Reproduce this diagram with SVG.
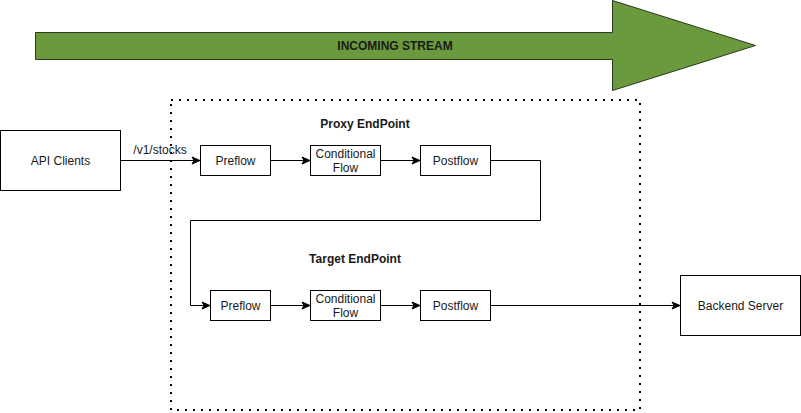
<svg xmlns="http://www.w3.org/2000/svg" width="801" height="413" viewBox="0 0 801 413">
<defs>
<marker id="arr" markerWidth="10" markerHeight="10" refX="9" refY="5" orient="auto" markerUnits="userSpaceOnUse">
<path d="M1,1.5 L9,5 L1,8.5 L3,5 Z" fill="#000" stroke="#000" stroke-width="1"/>
</marker>
</defs>
<style>
.box{fill:#fff;stroke:#000;stroke-width:1}
.t{font-family:"Liberation Sans",Arial,sans-serif;font-size:12px;fill:#1a1a1a;text-anchor:middle;dominant-baseline:central}
.b{font-weight:bold}
.c{fill:none;stroke:#000;stroke-width:1}
</style>
<rect width="801" height="413" fill="#fff"/>
<g id="incoming-stream">
<path d="M35.5,32.5 L612.5,32.5 L612.5,0.5 L755.5,45.5 L612.5,90.5 L612.5,59.5 L35.5,59.5 Z" fill="#6a9a3d" stroke="#2b3a1f" stroke-width="1"/>
<text class="t b" x="395" y="46">INCOMING STREAM</text>
</g>
<g id="container">
<rect x="171" y="100" width="469" height="310" fill="none" stroke="#000" stroke-width="2" stroke-dasharray="2 6"/>
</g>
<g id="proxy-label"><text class="t b" x="365" y="124">Proxy EndPoint</text></g>
<g id="target-label"><text class="t b" x="355" y="259">Target EndPoint</text></g>
<g id="connectors">
<line class="c" x1="120.5" y1="160.5" x2="200" y2="160.5" marker-end="url(#arr)"/>
<line class="c" x1="270.5" y1="160.5" x2="310" y2="160.5" marker-end="url(#arr)"/>
<line class="c" x1="380.5" y1="160.5" x2="420" y2="160.5" marker-end="url(#arr)"/>
<polyline class="c" points="490.5,160.5 540.5,160.5 540.5,220.5 190.5,220.5 190.5,305.5 210,305.5" marker-end="url(#arr)"/>
<line class="c" x1="270.5" y1="305.5" x2="310" y2="305.5" marker-end="url(#arr)"/>
<line class="c" x1="380.5" y1="305.5" x2="420" y2="305.5" marker-end="url(#arr)"/>
<line class="c" x1="490.5" y1="305.5" x2="680" y2="305.5" marker-end="url(#arr)"/>
<text class="t" x="160" y="150">/v1/stocks</text>
</g>
<g id="api-clients"><rect class="box" x="0.5" y="130.5" width="120" height="60"/><text class="t" x="60.5" y="160.5">API Clients</text></g>
<g id="proxy-preflow"><rect class="box" x="200.5" y="145.5" width="70" height="30"/><text class="t" x="235.5" y="160.5">Preflow</text></g>
<g id="proxy-conditional"><rect class="box" x="310.5" y="145.5" width="70" height="30"/><text class="t" x="345.5" y="153.5">Conditional</text><text class="t" x="345.5" y="167.5">Flow</text></g>
<g id="proxy-postflow"><rect class="box" x="420.5" y="145.5" width="70" height="30"/><text class="t" x="455.5" y="160.5">Postflow</text></g>
<g id="target-preflow"><rect class="box" x="210.5" y="290.5" width="60" height="30"/><text class="t" x="240.5" y="305.5">Preflow</text></g>
<g id="target-conditional"><rect class="box" x="310.5" y="290.5" width="70" height="30"/><text class="t" x="345.5" y="298.5">Conditional</text><text class="t" x="345.5" y="312.5">Flow</text></g>
<g id="target-postflow"><rect class="box" x="420.5" y="290.5" width="70" height="30"/><text class="t" x="455.5" y="305.5">Postflow</text></g>
<g id="backend-server"><rect class="box" x="680.5" y="275.5" width="120" height="60"/><text class="t" x="740.5" y="305.5">Backend Server</text></g>
</svg>
